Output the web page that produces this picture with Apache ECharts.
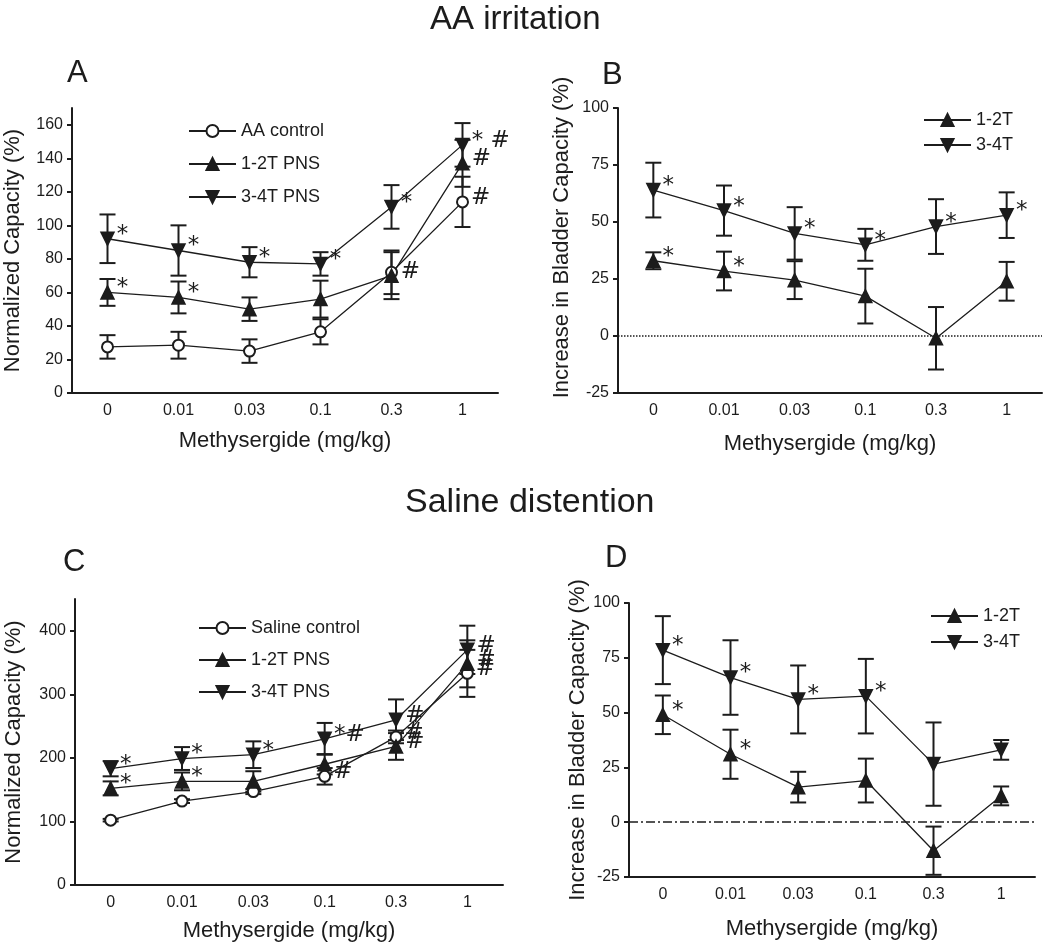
<!DOCTYPE html>
<html>
<head>
<meta charset="utf-8">
<script src="https://cdn.jsdelivr.net/npm/echarts@6/dist/echarts.min.js"></script>
<style>
  html, body { margin: 0; padding: 0; background: #fff; }
  #main { width: 1050px; height: 950px; }
</style>
</head>
<body>
<div id="main"></div>
<script>
// doses on the x axis (all four panels)
var doses = ["0", "0.01", "0.03", "0.1", "0.3", "1"];

// y tick labels
var ticksA = [0, 20, 40, 60, 80, 100, 120, 140, 160];
var ticksB = [-25, 0, 25, 50, 75, 100];
var ticksC = [0, 100, 200, 300, 400];

// A - AA irritation, normalized capacity
var aCtrl = [27.5, 28.5, 25, 36.5, 72, 114];
var aCtrlErr = [7, 8, 7, 7.5, 13, 15];
var aCtrlMark = ["", "", "", "", "", "#"];
var a12 = [60, 57, 50, 56, 70, 137];
var a12Err = [8, 9.5, 7, 11, 14, 14];
var a12Mark = ["*", "*", "", "", "#", "#"];
var a34 = [92, 85, 78, 77, 111, 148];
var a34Err = [14.5, 15, 9, 7, 13, 13];
var a34Mark = ["*", "*", "*", "*", "*", "* #"];

// B - AA irritation, increase in bladder capacity
var b12 = [33, 28.5, 24.5, 17.5, -1, 24];
var b12Err = [3.7, 8.5, 8.3, 12, 13.7, 8.5];
var b12Mark = ["*", "*", "", "", "", ""];
var b34 = [64, 55, 45, 40, 48, 53];
var b34Err = [12, 11, 11.5, 7, 12, 10];
var b34Mark = ["*", "*", "*", "*", "*", "*"];

// C - saline distention, normalized capacity
var cCtrl = [102, 132, 147, 171, 233, 333];
var cCtrlErr = [2, 3, 4, 13, 10, 37];
var cCtrlMark = ["", "", "", "#", "#", "#"];
var c12 = [152, 163, 163, 190, 218, 348];
var c12Err = [11, 14, 16, 16, 21, 37];
var c12Mark = ["*", "*", "", "", "#", "#"];
var c34 = [183, 199, 205, 230, 260, 370];
var c34Err = [12, 18, 21, 25, 32, 38];
var c34Mark = ["*", "*", "*", "*#", "#", "#"];

// D - saline distention, increase in bladder capacity
var d12 = [49, 31, 16, 19, -13, 12];
var d12Err = [8.8, 11.2, 7, 10, 11, 4.3];
var d12Mark = ["*", "*", "", "", "", ""];
var d34 = [78.5, 66, 56, 57.5, 26.5, 33];
var d34Err = [15.5, 17, 15.5, 17, 19, 4.5];
var d34Mark = ["*", "*", "*", "*", "", ""];

var INK = "#1c1c1c";
var DOWN = "path://M0,0L20,0L10,17Z";

function lineSeries(name, g, values, marks, symbol) {
  return {
    name: name,
    type: "line",
    xAxisIndex: g,
    yAxisIndex: g,
    data: values,
    symbol: symbol,
    symbolSize: symbol == "emptyCircle" ? 11 : 13,
    lineStyle: { color: INK, width: 1.3 },
    itemStyle: { color: INK, borderColor: INK, borderWidth: 1.5 },
    label: {
      show: true,
      position: "right",
      distance: 2,
      offset: [0, -4],
      fontSize: 23,
      fontFamily: "DejaVu Sans",
      color: INK,
      formatter: function(p) {
        return marks[p.dataIndex];
      }
    },
    z: 3
  };
}

function renderErr(params, api) {
  var x = api.value(0);
  var m = api.value(1);
  var e = api.value(2);
  var top = api.coord([x, m + e]);
  var bot = api.coord([x, m - e]);
  var w = 8;
  var st = { stroke: INK, lineWidth: 2 };
  return {
    type: "group",
    children: [
      { type: "line", shape: { x1: top[0], y1: top[1], x2: bot[0], y2: bot[1] }, style: st },
      { type: "line", shape: { x1: top[0] - w, y1: top[1], x2: top[0] + w, y2: top[1] }, style: st },
      { type: "line", shape: { x1: bot[0] - w, y1: bot[1], x2: bot[0] + w, y2: bot[1] }, style: st }
    ]
  };
}

function errSeries(g, values, errs) {
  return {
    type: "custom",
    xAxisIndex: g,
    yAxisIndex: g,
    silent: true,
    z: 2,
    data: values.map(function(v, i) {
      return [i, v, errs[i]];
    }),
    renderItem: renderErr
  };
}

function xAx(g, gap) {
  return {
    gridIndex: g,
    type: "category",
    data: doses,
    boundaryGap: true,
    name: "Methysergide (mg/kg)",
    nameLocation: "middle",
    nameGap: gap,
    nameTextStyle: { fontSize: 22, color: INK },
    axisLine: { onZero: false, lineStyle: { color: INK, width: 2 } },
    axisTick: { alignWithLabel: true, length: 5, lineStyle: { width: 2 } },
    axisLabel: { fontSize: 16, color: INK, margin: 10 },
    splitLine: { show: false }
  };
}

function yAx(g, min, max, ticks, name, gap, pad) {
  return {
    gridIndex: g,
    type: "value",
    min: min,
    max: max,
    name: name,
    nameLocation: "middle",
    nameGap: gap,
    nameTextStyle: { fontSize: 22, color: INK, padding: pad || 0 },
    axisLine: { show: true, lineStyle: { color: INK, width: 2 } },
    axisTick: { show: true, length: 5, customValues: ticks, lineStyle: { width: 2 } },
    axisLabel: { fontSize: 16, color: INK, margin: 9, customValues: ticks },
    splitLine: { show: false }
  };
}

function legend(left, top, names, gap) {
  return {
    left: left,
    top: top,
    orient: "vertical",
    itemWidth: 47,
    itemHeight: 15,
    itemGap: gap,
    selectedMode: false,
    data: names,
    lineStyle: { width: 2 },
    textStyle: { fontSize: 18, color: INK }
  };
}

function letter(text, left, top) {
  return { text: text, left: left, top: top, padding: 0, textStyle: { fontSize: 31, fontWeight: "normal", color: INK } };
}

var zeroDotted = {
  silent: true,
  symbol: "none",
  label: { show: false },
  lineStyle: { color: INK, type: "dotted", width: 1.5 },
  data: [{ yAxis: 0 }]
};
var zeroDashDot = {
  silent: true,
  symbol: "none",
  label: { show: false },
  lineStyle: { color: INK, type: [9, 3, 2, 3], width: 1.5 },
  data: [{ yAxis: 0 }]
};

var b12Series = lineSeries("1-2T", 1, b12, b12Mark, "triangle");
b12Series.markLine = zeroDotted;
var d12Series = lineSeries("1-2T", 3, d12, d12Mark, "triangle");
d12Series.markLine = zeroDashDot;

var chart = echarts.init(document.getElementById("main"));
var option = {
  animation: false,
  backgroundColor: "#fff",
  textStyle: { fontFamily: "Liberation Sans, Arial, sans-serif" },
  title: [
    { text: "AA irritation", left: 430, top: 3, padding: 0, textStyle: { fontSize: 33, fontWeight: "normal", color: INK } },
    { text: "Saline distention", left: 405, top: 486, padding: 0, textStyle: { fontSize: 34, fontWeight: "normal", color: INK } },
    letter("A", 67, 58),
    letter("B", 602, 60),
    letter("C", 63, 547),
    letter("D", 605, 543)
  ],
  grid: [
    { left: 72, top: 108, width: 426, height: 285 },
    { left: 618, top: 108, width: 424, height: 285 },
    { left: 75, top: 599, width: 428, height: 286 },
    { left: 629, top: 603, width: 406, height: 274 }
  ],
  legend: [
    legend(183, 117, ["AA control", "1-2T PNS", "3-4T PNS"], 15),
    legend(918, 106, ["1-2T", "3-4T"], 7),
    legend(193, 614, ["Saline control", "1-2T PNS", "3-4T PNS"], 14),
    legend(925, 602, ["1-2T", "3-4T"], 8)
  ],
  xAxis: [xAx(0, 37), xAx(1, 40), xAx(2, 35), xAx(3, 41)],
  yAxis: [
    yAx(0, 0, 170, ticksA, "Normalized Capacity (%)", 48),
    yAx(1, -25, 100, ticksB, "Increase in Bladder Capacity (%)", 45, [0, 0, 0, 26]),
    yAx(2, 0, 450, ticksC, "Normalized Capacity (%)", 50),
    yAx(3, -25, 100, ticksB, "Increase in Bladder Capacity (%)", 40)
  ],
  series: [
    errSeries(0, aCtrl, aCtrlErr),
    errSeries(0, a12, a12Err),
    errSeries(0, a34, a34Err),
    lineSeries("AA control", 0, aCtrl, aCtrlMark, "emptyCircle"),
    lineSeries("1-2T PNS", 0, a12, a12Mark, "triangle"),
    lineSeries("3-4T PNS", 0, a34, a34Mark, DOWN),

    errSeries(1, b12, b12Err),
    errSeries(1, b34, b34Err),
    b12Series,
    lineSeries("3-4T", 1, b34, b34Mark, DOWN),

    errSeries(2, cCtrl, cCtrlErr),
    errSeries(2, c12, c12Err),
    errSeries(2, c34, c34Err),
    lineSeries("Saline control", 2, cCtrl, cCtrlMark, "emptyCircle"),
    lineSeries("1-2T PNS", 2, c12, c12Mark, "triangle"),
    lineSeries("3-4T PNS", 2, c34, c34Mark, DOWN),

    errSeries(3, d12, d12Err),
    errSeries(3, d34, d34Err),
    d12Series,
    lineSeries("3-4T", 3, d34, d34Mark, DOWN)
  ]
};
chart.setOption(option);
</script>
</body>
</html>
